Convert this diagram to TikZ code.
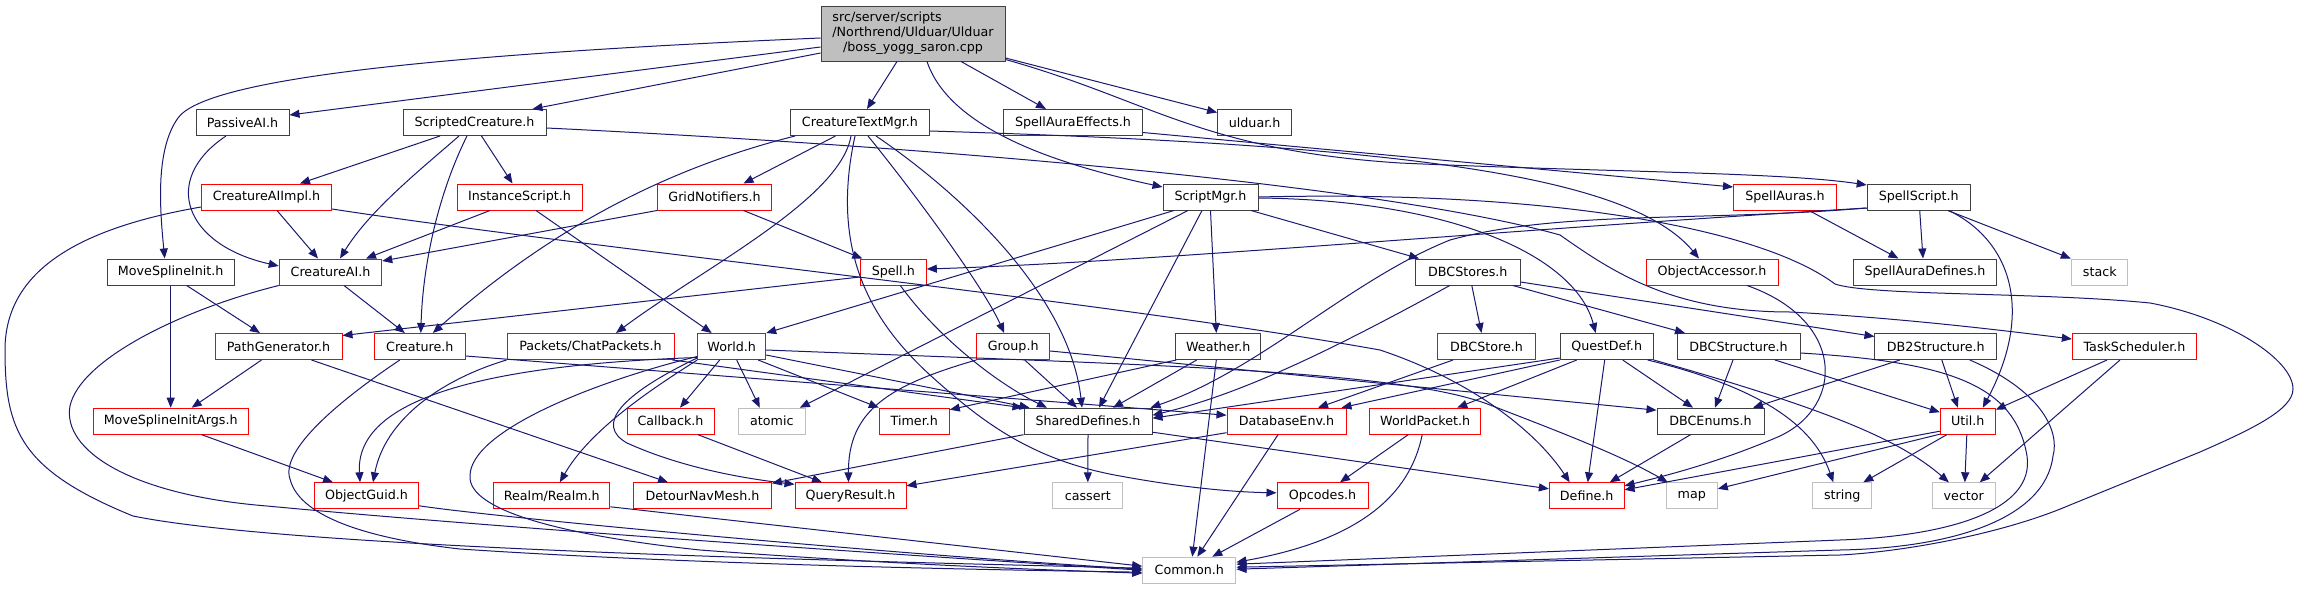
\documentclass[tikz,border=0pt]{standalone}
\usepackage{fontspec}
\setmainfont{DejaVu Sans}
\usetikzlibrary{arrows.meta,calc}
\definecolor{edgec}{HTML}{191970}
\definecolor{nblack}{HTML}{404040}
\definecolor{nred}{HTML}{FF0000}
\definecolor{ngrey}{HTML}{BFBFBF}
\definecolor{rootfill}{HTML}{BFBFBF}
\begin{document}
\begin{tikzpicture}[x=1pt,y=-1pt,
  every node/.style={font=\fontsize{12.7}{14.6}\selectfont, inner sep=0pt, minimum height=26pt, line width=1pt, fill=white},
  nb/.style={draw=nblack},
  nr/.style={draw=nred},
  ng/.style={draw=ngrey},
  conn/.style={draw=edgec, line width=1pt, -{Triangle[length=10pt,width=8pt]}},
]
\fill[white] (0,0) rectangle (2299,589);
\useasboundingbox (0,0) rectangle (2299,589);
% row 1
\node[nb, fill=rootfill, minimum width=184pt, minimum height=55pt] (root) at (913,33.5) {\begin{tabular}{@{}l@{}}src/server/scripts\\/Northrend/Ulduar/Ulduar\\\multicolumn{1}{@{}c@{}}{/boss\_yogg\_saron.cpp}\end{tabular}};
% row 2
\node[nb, minimum width=93pt] (passive) at (242.5,122.5) {PassiveAI.h};
\node[nb, minimum width=143pt] (scripted) at (474.5,122.5) {ScriptedCreature.h};
\node[nb, minimum width=139pt] (ctm) at (860,122.5) {CreatureTextMgr.h};
\node[nb, minimum width=138.5pt] (sae) at (1073,122.5) {SpellAuraEffects.h};
\node[nb, minimum width=74pt] (ulduar) at (1254.6,122.5) {ulduar.h};
% row 3
\node[nr, minimum width=130pt] (aiimpl) at (266.5,197) {CreatureAIImpl.h};
\node[nr, minimum width=125pt] (inst) at (519.5,197) {InstanceScript.h};
\node[nr, minimum width=114pt] (grid) at (714.5,197) {GridNotifiers.h};
\node[nb, minimum width=95pt] (smgr) at (1210.5,197) {ScriptMgr.h};
\node[nr, minimum width=103pt] (auras) at (1785,197) {SpellAuras.h};
\node[nb, minimum width=103pt] (sscript) at (1918.7,197) {SpellScript.h};
% row 4
\node[nb, minimum width=127pt] (msi) at (170.7,272) {MoveSplineInit.h};
\node[nr, minimum width=102.5pt] (cai) at (330.5,272) {CreatureAI.h};
\node[nr, minimum width=66pt] (spell) at (893.3,272) {Spell.h};
\node[nb, minimum width=104.5pt] (dbcstores) at (1467.8,272) {DBCStores.h};
\node[nr, minimum width=132pt] (oacc) at (1712,272) {ObjectAccessor.h};
\node[nb, minimum width=142.5pt] (sadef) at (1925,272) {SpellAuraDefines.h};
\node[ng, minimum width=56pt] (stack) at (2099.8,272) {stack};
% row 5
\node[nr, minimum width=127pt] (pathgen) at (278.5,346.5) {PathGenerator.h};
\node[nr, minimum width=91pt] (creature) at (419.8,346.5) {Creature.h};
\node[nr, minimum width=167pt] (chat) at (590.5,346.5) {Packets/ChatPackets.h};
\node[nr, minimum width=68pt] (world) at (731.7,346.5) {World.h};
\node[nr, minimum width=73pt] (group) at (1013.2,346.5) {Group.h};
\node[nb, minimum width=85pt] (weather) at (1218.3,346.5) {Weather.h};
\node[nr, minimum width=97.6pt] (dbcstore) at (1486.5,346.5) {DBCStore.h};
\node[nb, minimum width=93pt] (quest) at (1606.7,346.5) {QuestDef.h};
\node[nb, minimum width=123pt] (dbcstruct) at (1738.5,346.5) {DBCStructure.h};
\node[nb, minimum width=121.7pt] (db2struct) at (1935.8,346.5) {DB2Structure.h};
\node[nr, minimum width=124.3pt] (tasksch) at (2134.5,346.5) {TaskScheduler.h};
% row 6
\node[nr, minimum width=155.3pt] (msiargs) at (170.7,421.2) {MoveSplineInitArgs.h};
\node[nr, minimum width=87pt] (callback) at (670.5,421.2) {Callback.h};
\node[ng, minimum width=67pt] (atomic) at (771.8,421.2) {atomic};
\node[nr, minimum width=70pt] (timer) at (914.3,421.2) {Timer.h};
\node[nb, minimum width=128pt] (shared) at (1088,421.2) {SharedDefines.h};
\node[nr, minimum width=119pt] (dbenv) at (1286.5,421.2) {DatabaseEnv.h};
\node[nr, minimum width=111pt] (wpacket) at (1425.2,421.2) {WorldPacket.h};
\node[nb, minimum width=107pt] (dbcenums) at (1710.5,421.2) {DBCEnums.h};
\node[nr, minimum width=55pt] (util) at (1967.8,421.2) {Util.h};
% row 7
\node[nr, minimum width=104.3pt] (oguid) at (366.5,495.8) {ObjectGuid.h};
\node[nr, minimum width=116.3pt] (realm) at (551.8,495.8) {Realm/Realm.h};
\node[nr, minimum width=137.7pt] (detour) at (702.5,495.8) {DetourNavMesh.h};
\node[nr, minimum width=111pt] (qresult) at (850.5,495.8) {QueryResult.h};
\node[ng, minimum width=69.7pt] (cassert) at (1087.8,495.8) {cassert};
\node[nr, minimum width=91pt] (opcodes) at (1322.5,495.8) {Opcodes.h};
\node[nr, minimum width=74.7pt] (define) at (1586.7,495.8) {Define.h};
\node[ng, minimum width=51pt] (map) at (1691.8,495.8) {map};
\node[ng, minimum width=58.7pt] (string) at (1842.3,495.8) {string};
\node[ng, minimum width=63pt] (vector) at (1963.8,495.8) {vector};
% row 8
\node[ng, minimum width=93.3pt] (common) at (1189.3,570.2) {Common.h};

% ---------- edges ----------
% root
\draw[conn] ($(root.west)+(0,4.5)$) .. controls (420,55) and (205,80) .. (178,118) .. controls (155,150) and (160,210) .. ($(msi.north)+(-6,0)$);
\draw[conn] ($(root.west)+(0,13.5)$) -- ($(passive.east)+(0,-7.5)$);
\draw[conn] ($(root.west)+(0,19.5)$) -- ($(scripted.north)+(58,0)$);
\draw[conn] ($(root.south)+(-16,0)$) -- ($(ctm.north)+(7,0)$);
\draw[conn] ($(root.south)+(48,0)$) -- ($(sae.north)+(-27,0)$);
\draw[conn] ($(root.south)+(14,0)$) .. controls (950,130) and (1060,165) .. ($(smgr.west)+(0,-10)$);
\draw[conn] ($(root.east)+(0,24.5)$) -- ($(ulduar.west)+(0,-10)$);
\draw[conn] ($(root.east)+(0,26)$) .. controls (1150,100) and (1200,150) .. (1400,163) .. controls (1600,172) and (1780,172) .. ($(sscript.west)+(0,-12)$);
% PassiveAI
\draw[conn] ($(passive.south)+(-16.5,0)$) .. controls (160,180) and (185,245) .. ($(cai.west)+(0,-6)$);
% ScriptedCreature
\draw[conn] ($(scripted.south)+(-34.5,0)$) -- ($(aiimpl.north)+(33.5,0)$);
\draw[conn] ($(scripted.south)+(-15.5,0)$) .. controls (420,170) and (370,210) .. ($(cai.north)+(9.5,0)$);
\draw[conn] ($(scripted.south)+(-7.5,0)$) .. controls (440,190) and (423,260) .. ($(creature.north)+(1,0)$);
\draw[conn] ($(scripted.south)+(7,0)$) -- ($(inst.north)+(-7,0)$);
\draw[conn] ($(scripted.east)+(0,5.5)$) .. controls (1000,150) and (1400,190) .. (1560,235) .. controls (1610,270) and (1670,312) .. (1790,312) .. controls (1900,318) and (2000,330) .. ($(tasksch.west)+(0,-7.5)$);
% CreatureTextMgr
\draw[conn] ($(ctm.south)+(-65,0)$) .. controls (680,165) and (560,220) .. ($(creature.north)+(13,0)$);
\draw[conn] ($(ctm.south)+(-24.5,0)$) -- ($(grid.north)+(29,0)$);
\draw[conn] ($(ctm.south)+(-9,0)$) .. controls (840,200) and (700,270) .. ($(chat.north)+(25.5,0)$);
\draw[conn] ($(ctm.south)+(-5,0)$) .. controls (830,250) and (870,320) .. (930,375) .. controls (980,420) and (1030,460) .. (1120,476) .. controls (1180,487) and (1230,492) .. ($(opcodes.west)+(0,-3)$);
\draw[conn] ($(ctm.south)+(8,0)$) .. controls (920,200) and (985,290) .. ($(group.north)+(-9,0)$);
\draw[conn] ($(ctm.south)+(16,0)$) .. controls (970,200) and (1070,300) .. ($(shared.north)+(-6,0)$);
\draw[conn] ($(ctm.east)+(0,8.5)$) .. controls (1400,145) and (1630,175) .. ($(oacc.north)+(-13,0)$);
% SpellAuraEffects
\draw[conn] ($(sae.east)+(0,10)$) -- ($(auras.west)+(0,-10)$);
% ScriptMgr
\draw[conn] ($(smgr.south)+(-36.5,0)$) -- (world.north east);
\draw[conn] ($(smgr.south)+(-22.5,0)$) -- ($(atomic.north)+(28,0)$);
\draw[conn] ($(smgr.south)+(-8.5,0)$) -- ($(shared.north)+(11,0)$);
\draw[conn] (smgr.south) -- ($(weather.north)+(-2,0)$);
\draw[conn] ($(smgr.south)+(40.5,0)$) -- ($(dbcstores.north west)+(4,0)$);
\draw[conn] ($(smgr.east)+(0,1)$) .. controls (1450,200) and (1575,255) .. ($(quest.north)+(-11,0)$);
\draw[conn] (smgr.east) .. controls (1550,190) and (1760,228) .. (1835,284) .. controls (1870,296) and (2040,292) .. (2150,303) .. controls (2230,318) and (2293,360) .. (2293,389) .. controls (2293,410) and (2250,430) .. (2200,452) -- (2070,505) .. controls (2000,535) and (1900,552) .. (1840,555) -- ($(common.east)+(0,-3)$);
% GridNotifiers
\draw[conn] (grid.south west) -- ($(cai.east)+(0,-11)$);
\draw[conn] ($(grid.south)+(29,0)$) -- ($(spell.north)+(-31,0)$);
% InstanceScript
\draw[conn] ($(inst.south)+(-29.5,0)$) -- ($(cai.north)+(35.5,0)$);
\draw[conn] ($(inst.south)+(16.5,0)$) -- ($(world.north)+(-20,0)$);
% CreatureAIImpl
\draw[conn] ($(aiimpl.south)+(10.5,0)$) -- ($(cai.north)+(-12.5,0)$);
\draw[conn] ($(aiimpl.west)+(0,10)$) .. controls (80,228) and (5,270) .. (5,350) .. controls (5,430) and (20,470) .. (133,516) .. controls (300,550) and (900,562) .. ($(common.west)+(0,-2)$);
\draw[conn] ($(aiimpl.east)+(0,12)$) .. controls (600,250) and (1100,300) .. (1380,350) .. controls (1470,380) and (1535,430) .. ($(define.north)+(-17,0)$);
% MoveSplineInit
\draw[conn] (msi.south) -- (msiargs.north);
\draw[conn] ($(msi.south)+(16,0)$) -- ($(pathgen.north)+(-18.5,0)$);
% CreatureAI
\draw[conn] ($(cai.south)+(13.5,0)$) -- ($(creature.north)+(-15,0)$);
\draw[conn] (cai.south west) .. controls (180,310) and (80,360) .. (70,406) .. controls (62,450) and (130,495) .. (267,506) .. controls (500,528) and (900,555) .. (common.west);
% Spell
\draw[conn] ($(spell.west)+(0,5)$) -- ($(pathgen.east)+(0,-11)$);
\draw[conn] ($(spell.south)+(7,0)$) .. controls (940,340) and (1000,385) .. ($(shared.north)+(-41,0)$);
% DBCStores
\draw[conn] ($(dbcstores.south)+(4,0)$) -- ($(dbcstore.north)+(-5,0)$);
\draw[conn] ($(dbcstores.south)+(45,0)$) -- ($(dbcstruct.north)+(-53.5,0)$);
\draw[conn] ($(dbcstores.east)+(0,10)$) -- ($(db2struct.west)+(0,-10)$);
\draw[conn] ($(dbcstores.south)+(-18,0)$) .. controls (1350,340) and (1250,392) .. ($(shared.east)+(0,-6)$);
% ObjectAccessor
\draw[conn] ($(oacc.south)+(35,0)$) .. controls (1845,320) and (1845,405) .. (1780,436) .. controls (1720,462) and (1665,476) .. ($(define.east)+(0,-10)$);
% SpellAuras / SpellScript
\draw[conn] ($(auras.south)+(24,0)$) -- ($(sadef.north)+(-26.5,0)$);
\draw[conn] ($(sscript.south)+(1,0)$) -- ($(sadef.north)+(-2,0)$);
\draw[conn] ($(sscript.south)+(29,0)$) -- ($(stack.north)+(-29,0)$);
\draw[conn] ($(sscript.west)+(0,11)$) .. controls (1500,230) and (1150,262) .. ($(spell.east)+(0,-3)$);
\draw[conn] ($(sscript.west)+(0,11)$) .. controls (1700,222) and (1560,210) .. (1450,240) .. controls (1350,280) and (1260,370) .. ($(shared.north east)+(-2,0)$);
\draw[conn] ($(sscript.south)+(30,0)$) .. controls (2010,240) and (2035,310) .. ($(util.north)+(15,0)$);
% PathGenerator
\draw[conn] ($(pathgen.south)+(-17,0)$) -- ($(msiargs.north)+(21,0)$);
\draw[conn] ($(pathgen.south)+(33,0)$) -- ($(detour.north)+(-34.5,0)$);
% Creature
\draw[conn] ($(creature.south)+(-20,0)$) .. controls (340,400) and (280,450) .. (290,479) .. controls (300,520) and (380,540) .. (460,549) .. controls (700,565) and (1000,570) .. ($(common.west)+(0,2)$);
\draw[conn] ($(creature.east)+(0,9.5)$) -- ($(dbenv.west)+(0,-6)$);
% Packets/ChatPackets
\draw[conn] (chat.south west) .. controls (440,380) and (385,420) .. ($(oguid.north)+(6.5,0)$);
\draw[conn] ($(chat.south east)+(-2,0)$) -- ($(shared.north west)+(-1,0)$);
% World
\draw[conn] ($(world.south)+(-12,0)$) -- ($(callback.north)+(9.5,0)$);
\draw[conn] ($(world.south)+(5,0)$) -- ($(atomic.north)+(-12,0)$);
\draw[conn] ($(world.south east)+(-8,0)$) -- (timer.north west);
\draw[conn] ($(world.south west)+(0,-2)$) .. controls (620,395) and (595,425) .. (627,443) .. controls (680,467) and (740,478) .. ($(qresult.north west)+(0,2)$);
\draw[conn] (world.south west) .. controls (650,390) and (590,430) .. ($(realm.north)+(8,0)$);
\draw[conn] ($(world.west)+(0,10)$) .. controls (600,380) and (470,430) .. (470,476) .. controls (468,510) and (560,535) .. (700,550) .. controls (900,565) and (1050,570) .. ($(common.west)+(0,3)$);
\draw[conn] ($(world.west)+(0,11)$) .. controls (480,365) and (355,400) .. ($(oguid.north)+(-6.5,0)$);
\draw[conn] ($(world.east)+(0,8.5)$) -- ($(shared.north west)+(6,0)$);
\draw[conn] ($(world.east)+(0,3.5)$) .. controls (1150,365) and (1400,370) .. (1490,405) .. controls (1560,432) and (1620,455) .. ($(map.north west)+(2,0)$);
% Group
\draw[conn] (group.south west) .. controls (890,385) and (848,410) .. ($(qresult.north)+(-2,0)$);
\draw[conn] ($(group.east)+(0,4.5)$) -- ($(dbcenums.west)+(0,-11)$);
\draw[conn] ($(group.south)+(11.5,0)$) -- ($(shared.north)+(-11,0)$);
% Weather
\draw[conn] ($(weather.south west)+(1,0)$) -- ($(timer.north east)+(0,2)$);
\draw[conn] ($(weather.south)+(-21.6,0)$) -- ($(shared.north)+(25,0)$);
\draw[conn] ($(weather.south)+(-2,0)$) -- ($(common.north)+(3,0)$);
% DBCStore
\draw[conn] ($(dbcstore.south)+(-33.5,0)$) -- ($(dbenv.north)+(31.5,0)$);
% QuestDef
\draw[conn] ($(quest.south)+(-2,0)$) -- ($(define.north)+(1,0)$);
\draw[conn] ($(quest.south)+(16,0)$) -- ($(dbcenums.north)+(-17.5,0)$);
\draw[conn] ($(quest.south)+(-30,0)$) -- ($(wpacket.north)+(32,0)$);
\draw[conn] ($(quest.south west)+(0,-2)$) -- ($(shared.east)+(0,-3)$);
\draw[conn] (quest.south west) -- ($(dbenv.north east)+(-5,0)$);
\draw[conn] ($(quest.south east)+(-6,0)$) .. controls (1770,390) and (1815,430) .. ($(string.north)+(-9,0)$);
\draw[conn] (quest.south east) .. controls (1830,410) and (1900,440) .. ($(vector.north)+(-15,0)$);
% DBCStructure
\draw[conn] ($(dbcstruct.south)+(-5.5,0)$) -- ($(dbcenums.north)+(4.5,0)$);
\draw[conn] ($(dbcstruct.south)+(36.5,0)$) -- ($(util.west)+(0,-9)$);
\draw[conn] ($(dbcstruct.east)+(0,6.5)$) .. controls (1950,362) and (2015,385) .. (2027,456) .. controls (2035,510) and (1950,536) .. (1840,540) -- ($(common.east)+(0,-6)$);
% DB2Structure
\draw[conn] ($(db2struct.south)+(-36,0)$) -- ($(dbcenums.north)+(42.5,0)$);
\draw[conn] ($(db2struct.south)+(6,0)$) -- ($(util.north)+(-10,0)$);
\draw[conn] ($(db2struct.south)+(34,0)$) .. controls (2040,390) and (2060,430) .. (2053,456) .. controls (2045,520) and (1950,548) .. (1840,550) -- ($(common.east)+(0,-1)$);
% TaskScheduler
\draw[conn] ($(tasksch.south)+(-27.5,0)$) -- ($(util.north east)+(0,2)$);
\draw[conn] ($(tasksch.south)+(-14.5,0)$) -- ($(vector.north)+(16,0)$);
% row 6 sources
\draw[conn] ($(msiargs.south)+(31,0)$) -- ($(oguid.north)+(-33.5,0)$);
\draw[conn] ($(callback.south)+(27.5,0)$) -- ($(qresult.north)+(-28.5,0)$);
\draw[conn] (shared.south) -- (cassert.north);
\draw[conn] ($(shared.east)+(0,11)$) -- ($(define.west)+(0,-7)$);
\draw[conn] (shared.south west) -- ($(detour.north east)+(0,1)$);
\draw[conn] ($(dbenv.south west)+(0,-2)$) -- ($(qresult.east)+(0,-10)$);
\draw[conn] ($(dbenv.south)+(-8.5,0)$) -- ($(common.north)+(8,0)$);
\draw[conn] ($(wpacket.south)+(-17,0)$) -- ($(opcodes.north)+(17.5,0)$);
\draw[conn] ($(wpacket.south)+(-3,0)$) .. controls (1410,495) and (1360,540) .. ($(common.east)+(0,-8)$);
\draw[conn] ($(dbcenums.south)+(-20,0)$) -- ($(define.north)+(23,0)$);
\draw[conn] ($(util.west)+(0,10)$) -- ($(define.east)+(0,-6)$);
\draw[conn] ($(util.west)+(0,13)$) -- ($(map.east)+(0,-7)$);
\draw[conn] ($(util.south)+(-21,0)$) -- ($(string.north)+(21,0)$);
\draw[conn] ($(util.south)+(-1,0)$) -- ($(vector.north)+(1,0)$);
% row 7 sources
\draw[conn] ($(opcodes.south)+(-22.5,0)$) -- ($(common.north)+(23,0)$);
\draw[conn] ($(realm.east)+(0,11)$) -- ($(common.west)+(0,-4)$);
\draw[conn] ($(oguid.east)+(0,10)$) .. controls (500,518) and (900,555) .. ($(common.west)+(0,-1)$);
\end{tikzpicture}
\end{document}
